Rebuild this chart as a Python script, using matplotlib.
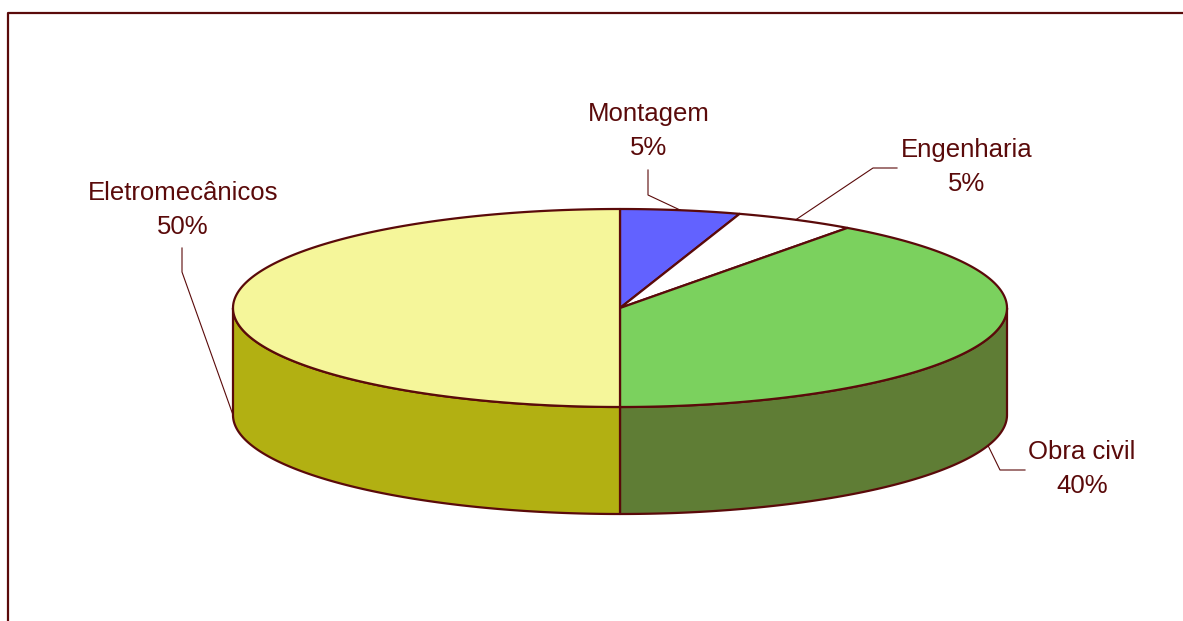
import numpy as np
import matplotlib.pyplot as plt
from matplotlib.patches import Polygon

# data (clockwise from 12 o'clock)
labels = ['Montagem', 'Engenharia', 'Obra civil', 'Eletromecânicos']
shares = [5, 5, 40, 50]
top_colors = ['#6262ff', '#ffffff', '#7bd15e', '#f5f69a']
side_colors = ['#4040c0', '#d0d0d0', '#5f7d35', '#b2b012']

edge = '#5a0a0a'
txt_color = '#5a0a0a'

# pie geometry in pixel units
cx, cy = 620, 308
rx, ry = 387, 99
depth = 107

# label layout: text center, elbow point near the text
label_pos = [(649, 131), (967, 167), (1082, 469), (183, 210)]
leader_start = [(648, 170), (897, 168), (1025, 470), (182, 248)]
leader_elbow = [(648, 195), (873, 168), (1000, 470), (182, 272)]

plt.rcParams['font.family'] = ['Liberation Sans', 'DejaVu Sans']

fig = plt.figure(figsize=(11.83, 6.21), dpi=100)
ax = fig.add_axes([0, 0, 1, 1])
ax.set_xlim(0, 1183)
ax.set_ylim(621, 0)
ax.axis('off')


def ell(theta, dy=0):
    t = np.radians(theta)
    return cx + rx * np.cos(t), cy - ry * np.sin(t) + dy


total = float(sum(shares))
bounds = [90.0]
for s in shares:
    bounds.append(bounds[-1] - 360.0 * s / total)

# side walls (only the front half, -180..0 degrees, is visible)
for i in range(len(shares)):
    a0, a1 = bounds[i], bounds[i + 1]
    for shift in (0, 360, -360):
        lo = max(a1 + shift, -180)
        hi = min(a0 + shift, 0)
        if hi <= lo:
            continue
        th = np.linspace(hi, lo, 120)
        xt, yt = ell(th)
        xb, yb = ell(th[::-1], depth)
        pts = np.column_stack([np.concatenate([xt, xb]), np.concatenate([yt, yb])])
        ax.add_patch(Polygon(pts, closed=True, facecolor=side_colors[i],
                             edgecolor=edge, linewidth=1.6, joinstyle='round'))

# top faces
for i in range(len(shares)):
    a0, a1 = bounds[i], bounds[i + 1]
    th = np.linspace(a0, a1, 200)
    xs, ys = ell(th)
    pts = np.column_stack([np.concatenate([[cx], xs]), np.concatenate([[cy], ys])])
    ax.add_patch(Polygon(pts, closed=True, facecolor=top_colors[i],
                         edgecolor=edge, linewidth=1.6, joinstyle='round'))

# frame (right and bottom edges fall outside the picture)
ax.plot([8, 8, 1190], [640, 13, 13], color=edge, linewidth=1.6, clip_on=False)

# labels and leader lines
for i in range(len(shares)):
    mid = (bounds[i] + bounds[i + 1]) / 2.0
    m = ((mid + 180) % 360) - 180
    dy = depth if -180 <= m <= 0 else 0
    px, py = ell(mid, dy)
    sx, sy = leader_start[i]
    ex, ey = leader_elbow[i]
    ax.plot([sx, ex, px], [sy, ey, py], color=edge, linewidth=0.8)
    tx, ty = label_pos[i]
    ax.text(tx, ty, '%s\n%d%%' % (labels[i], shares[i]), ha='center', va='center',
            fontsize=18.5, color=txt_color, linespacing=1.5)

plt.savefig('out.png', dpi=100)
